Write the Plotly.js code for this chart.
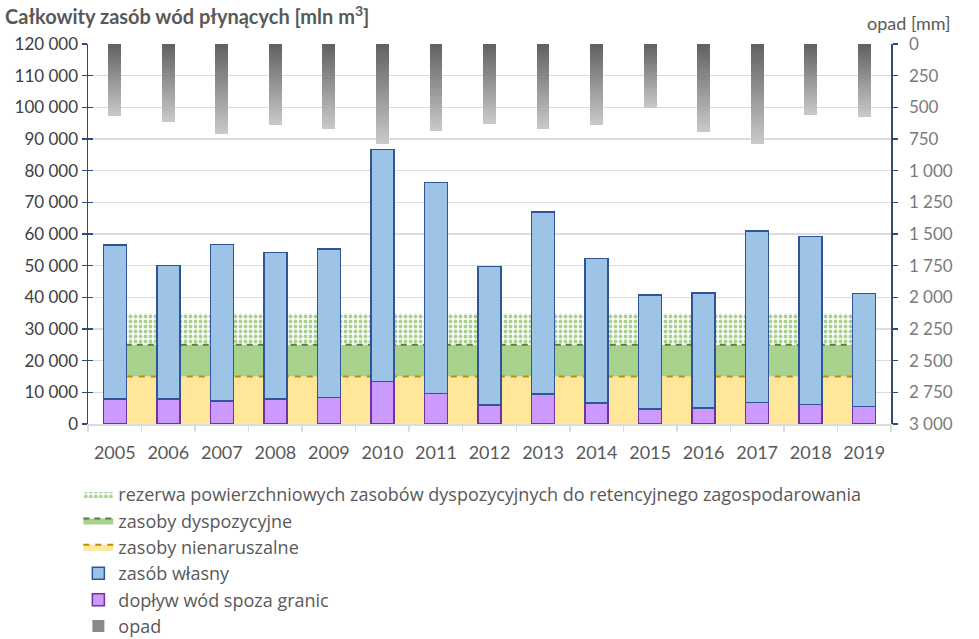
<!DOCTYPE html>
<html>
<head>
<meta charset="utf-8">
<script src="https://cdn.plot.ly/plotly-3.0.1.min.js"></script>
<style>
  html, body { margin: 0; padding: 0; background: #fff; }
  #chart { width: 979px; height: 639px; }
</style>
</head>
<body>
<div id="chart"></div>
<script>
// ── data ─────────────────────────────────────────────────
const YEARS = ['2005', '2006', '2007', '2008', '2009', '2010', '2011', '2012',
               '2013', '2014', '2015', '2016', '2017', '2018', '2019'];

// mln m3
const DOPLYW       = [7900, 7900, 7300, 7900, 8400, 13400, 9600, 6000, 9400, 6600, 4800, 5100, 6800, 6200, 5500];
const ZASOB_WLASNY = [48600, 42100, 49400, 46200, 46800, 73300, 66700, 43700, 57600, 45700, 36000, 36300, 54100, 53000, 35700];

// stacked area layers (mln m3)
const NIENARUSZALNE = [15000, 15000, 15000, 15000, 15000, 15000, 15000, 15000, 15000, 15000, 15000, 15000, 15000, 15000, 15000];
const DYSPOZYCYJNE  = [10000, 10000, 10000, 10000, 10000, 10000, 10000, 10000, 10000, 10000, 10000, 10000, 10000, 10000, 10000];
const REZERWA       = [10000, 10000, 10000, 10000, 10000, 10000, 10000, 10000, 10000, 10000, 10000, 10000, 10000, 10000, 10000];

// mm
const OPAD = [568, 613, 713, 639, 671, 789, 687, 629, 674, 637, 503, 692, 789, 558, 574];

const LEFT_RANGE  = [0, 120000];
const RIGHT_RANGE = [3000, 0];

// ── styling ──────────────────────────────────────────────
const FONT      = 'Lato, "Open Sans", sans-serif';
const AXIS_NAVY = '#2f4a7c';
const GRID      = '#dcdcdc';
const TXT       = '#595959';

// opad gets a vertical grey gradient: each bar is drawn as thin stacked slices
const GRAD_STEPS = 32;
function greyAt(t) {
  const from = 98, to = 200;
  const v = Math.round(from + (to - from) * t);
  return `rgb(${v},${v},${v})`;
}

const traces = [];

// areas on the base subplot so the bars sit over them
traces.push({
  type: 'scatter', mode: 'lines', x: YEARS, y: NIENARUSZALNE,
  name: 'zasoby nienaruszalne', stackgroup: 'zasoby',
  fillcolor: '#ffe699',
  line: { color: '#bf9000', width: 2, dash: '6px,6px' },
  legendrank: 3, hoverinfo: 'skip',
});
traces.push({
  type: 'scatter', mode: 'lines', x: YEARS, y: DYSPOZYCYJNE,
  name: 'zasoby dyspozycyjne', stackgroup: 'zasoby',
  fillcolor: '#a9d18e',
  line: { color: '#548235', width: 2, dash: '6px,5px' },
  legendrank: 2, hoverinfo: 'skip',
});
traces.push({
  type: 'scatter', mode: 'lines', x: YEARS, y: REZERWA,
  name: 'rezerwa powierzchniowych zasobów dyspozycyjnych do retencyjnego zagospodarowania',
  stackgroup: 'zasoby',
  fillcolor: 'rgba(255,255,255,0)',
  fillpattern: { shape: '.', fgcolor: '#a9d18e', bgcolor: '#ffffff', size: 5, solidity: 0.45 },
  line: { color: 'rgba(0,0,0,0)', width: 0 },
  legendrank: 1, hoverinfo: 'skip',
});

// stacked bars (left axis, overlay y3)
traces.push({
  type: 'bar', x: YEARS, y: DOPLYW, yaxis: 'y3',
  name: 'dopływ wód spoza granic', width: 0.43,
  marker: { color: '#cc99ff', line: { color: '#7030a0', width: 1.5 } },
  legendrank: 5,
});
traces.push({
  type: 'bar', x: YEARS, y: ZASOB_WLASNY, yaxis: 'y3',
  name: 'zasób własny', width: 0.43,
  marker: { color: '#9dc3e6', line: { color: '#2f5597', width: 1.5 } },
  legendrank: 4,
});

// precipitation, hanging from the top on the reversed right axis
for (let i = 0; i < GRAD_STEPS; i++) {
  traces.push({
    type: 'bar', x: YEARS, y: OPAD.map(v => v / GRAD_STEPS), yaxis: 'y2',
    name: 'opad', width: 0.24,
    marker: { color: greyAt(i / (GRAD_STEPS - 1)), line: { width: 0 } },
    legendgroup: 'opad', showlegend: i === 12, legendrank: 6,
    hoverinfo: 'skip',
  });
}

const layout = {
  width: 979, height: 639,
  margin: { l: 88, r: 88, t: 44, b: 215, autoexpand: false },
  paper_bgcolor: '#fff', plot_bgcolor: '#fff',
  font: { family: FONT, color: TXT },
  separators: ', ',
  barmode: 'stack',
  title: {
    text: 'Całkowity zasób wód płynących [mln m<sup>3</sup>]',
    font: { family: FONT, size: 20, color: TXT, weight: 'bold' },
    x: 5 / 979, xanchor: 'left', xref: 'container',
    y: 1 - 17 / 639, yanchor: 'middle', yref: 'container',
  },
  annotations: [{
    text: 'opad [mm]', xref: 'paper', yref: 'paper',
    x: (953 - 88) / 803, xanchor: 'right', y: 1 + 21 / 380, yanchor: 'middle',
    showarrow: false, font: { family: FONT, size: 18, color: TXT },
  }],
  xaxis: {
    type: 'category', tickson: 'boundaries',
    range: [-0.5, 14.5],
    showgrid: false, zeroline: false,
    showline: true, linecolor: GRID, linewidth: 1.5,
    ticks: 'outside', ticklen: 6, tickcolor: GRID, tickwidth: 1.5,
    ticklabelstandoff: 12,
    tickfont: { family: FONT, size: 18, color: TXT },
  },
  yaxis: {
    range: LEFT_RANGE, dtick: 10000, tickformat: ',d',
    showgrid: true, gridcolor: GRID, gridwidth: 1.5, zeroline: false,
    showline: true, linecolor: AXIS_NAVY, linewidth: 1.5,
    ticks: 'outside', ticklen: 5, tickcolor: AXIS_NAVY, tickwidth: 1.5,
    tickfont: { family: FONT, size: 17, color: '#404040' },
  },
  yaxis3: {
    range: LEFT_RANGE, dtick: 10000, overlaying: 'y', side: 'left',
    showgrid: false, zeroline: false, showline: false, showticklabels: false,
    ticks: 'inside', ticklen: 5, tickcolor: AXIS_NAVY, tickwidth: 1.5,
  },
  yaxis2: {
    range: RIGHT_RANGE, dtick: 250, tickformat: ',d',
    overlaying: 'y', side: 'right',
    showgrid: false, zeroline: false,
    showline: true, linecolor: AXIS_NAVY, linewidth: 1.5,
    ticks: 'outside', ticklen: 5, tickcolor: AXIS_NAVY, tickwidth: 1.5,
    ticklabelstandoff: 8,
    tickfont: { family: FONT, size: 17, color: '#7a7a7a' },
  },
  yaxis4: {
    range: RIGHT_RANGE, dtick: 250, overlaying: 'y', side: 'right',
    showgrid: false, zeroline: false, showline: false, showticklabels: false,
    ticks: 'inside', ticklen: 5, tickcolor: AXIS_NAVY, tickwidth: 1.5,
  },
  showlegend: true,
  legend: {
    orientation: 'v', x: -0.012, xanchor: 'left', y: -0.1365, yanchor: 'top',
    font: { family: '"Open Sans", Lato, sans-serif', size: 18, color: TXT },
    tracegroupgap: 0, itemwidth: 30,
    bgcolor: 'rgba(0,0,0,0)',
  },
  hovermode: false,
};

Plotly.newPlot('chart', traces, layout, { displayModeBar: false, staticPlot: true });
</script>
</body>
</html>
